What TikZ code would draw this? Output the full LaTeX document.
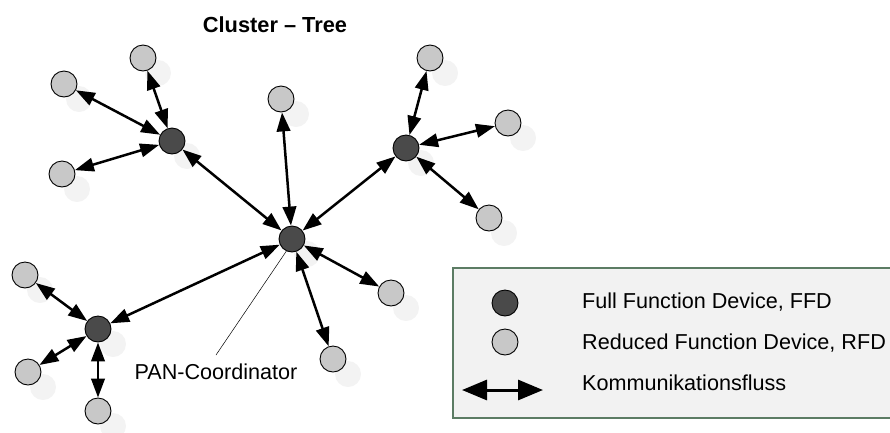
\documentclass[tikz,border=0pt]{standalone}
\usepackage{fontspec}
\setmainfont{Liberation Sans}
\usetikzlibrary{arrows.meta}
\definecolor{ffdgray}{HTML}{4A4A4A}
\definecolor{rfdgray}{HTML}{C8C8C8}
\definecolor{shadowgray}{HTML}{F3F3F3}
\definecolor{legendfill}{HTML}{F2F2F2}
\definecolor{legendedge}{HTML}{5C7C64}
\tikzset{
  dev/.style={circle, draw=black, line width=0.9pt, minimum size=26pt, inner sep=0pt},
  ffd/.style={dev, fill=ffdgray},
  rfd/.style={dev, fill=rfdgray},
  shade/.style={circle, fill=shadowgray, minimum size=26pt, inner sep=0pt},
  link/.style={line width=2.5pt, {Triangle[length=19pt,width=13.5pt]}-{Triangle[length=19pt,width=13.5pt]}},
  lbl/.style={font=\fontsize{21.6pt}{25pt}\selectfont, inner sep=0pt}
}
\begin{document}
\begin{tikzpicture}[x=1pt,y=-1pt]
\useasboundingbox (0,0) rectangle (890,432);

% legend panel (runs off the right edge)
\fill[legendfill] (453,268) rectangle (900,418);
\draw[legendedge, line width=1.3pt] (900,268) -- (453,268) -- (453,418) -- (900,418);

% soft drop shadows of all devices
\foreach \x/\y in {143/58,64/84,172/141,62/174,281/99,430/58,406/148,508/123,489/218,
                   292/239,25/275,98/329,28/372,98/411,391/293,333/359}
  \node[shade] at (\x+15,\y+15) {};

% devices
\node[ffd] (pan) at (292,239) {};
\node[ffd] (fa) at (172,141) {};
\node[ffd] (fb) at (406,148) {};
\node[ffd] (fc) at (98,329) {};

\node[rfd] (a1) at (143,58) {};
\node[rfd] (a2) at (64,84) {};
\node[rfd] (a3) at (62,174) {};
\node[rfd] (b1) at (430,58) {};
\node[rfd] (b2) at (508,123) {};
\node[rfd] (b3) at (489,218) {};
\node[rfd] (c1) at (25,275) {};
\node[rfd] (c2) at (28,372) {};
\node[rfd] (c3) at (98,411) {};
\node[rfd] (p1) at (281,99) {};
\node[rfd] (p2) at (391,293) {};
\node[rfd] (p3) at (333,359) {};

% communication links
\foreach \n in {fa,fb,fc,p1,p2,p3} \draw[link] (pan) -- (\n);
\foreach \n in {a1,a2,a3} \draw[link] (fa) -- (\n);
\foreach \n in {b1,b2,b3} \draw[link] (fb) -- (\n);
\foreach \n in {c1,c2,c3} \draw[link] (fc) -- (\n);

% title and coordinator label
\node[font=\bfseries\fontsize{21.8pt}{25pt}\selectfont] (title) at (275,25) {Cluster – Tree};
\node[lbl] (panlbl) at (216,372) {PAN-Coordinator};
\coordinate (panlead) at (216,355);
\draw[line width=0.5pt] (pan.245) -- (panlead);

% legend entries
\node[ffd] (lffd) at (505,303) {};
\node[rfd] (lrfd) at (505,342) {};
\coordinate (la) at (462,390);
\coordinate (lb) at (543,390);
\draw[line width=3pt, {Triangle[length=25pt,width=20pt]}-{Triangle[length=25pt,width=20pt]}] (la) -- (lb);
\node[lbl, anchor=west] (tffd) at (582,302) {Full Function Device, FFD};
\node[lbl, anchor=west] (trfd) at (582,343) {Reduced Function Device, RFD};
\node[lbl, anchor=west] (tkom) at (582,383) {Kommunikationsfluss};
\end{tikzpicture}
\end{document}
